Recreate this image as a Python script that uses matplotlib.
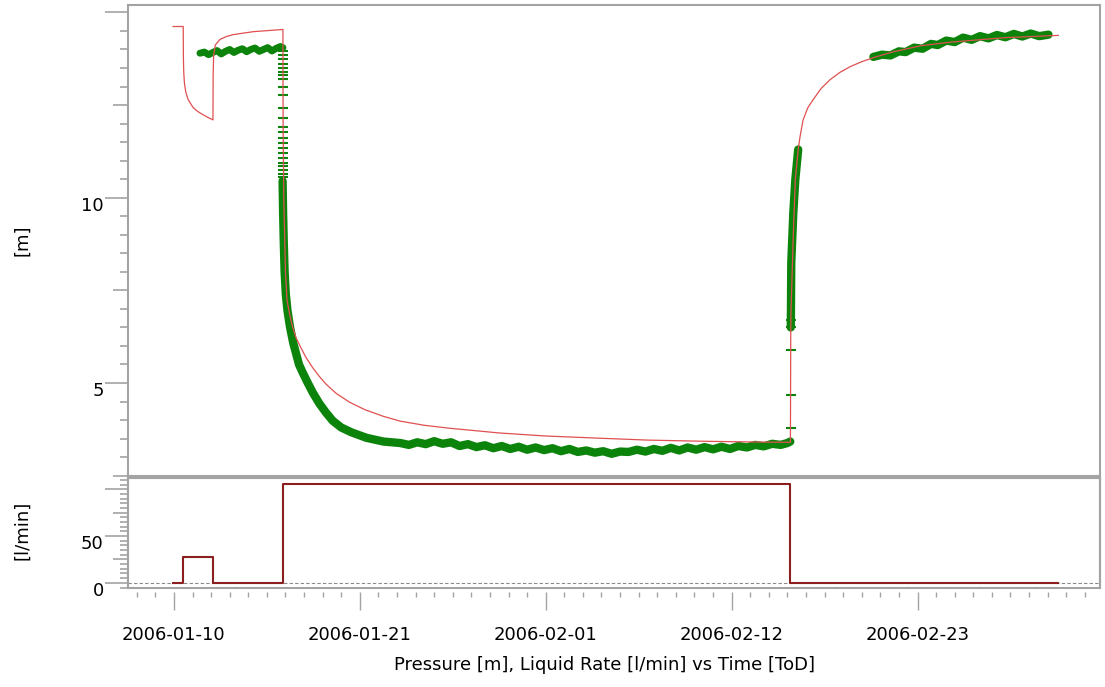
import datetime as dt
import numpy as np
import matplotlib
matplotlib.use('Agg')
import matplotlib.pyplot as plt
import matplotlib.dates as mdates
from matplotlib.ticker import FixedLocator, FixedFormatter, MultipleLocator
from matplotlib.patches import Rectangle
from matplotlib.transforms import ScaledTranslation

# time is in days after 2006-01-10
start = dt.datetime(2006, 1, 10)

# simulated pressure (model)
model_t = [-0.05, 0.55, 0.56, 0.58, 0.62, 0.7, 0.85, 1.14, 1.4, 1.72, 2.0, 2.31,
           2.32, 2.35, 2.45, 2.72, 3.1, 3.49, 4.68, 6.45,
           6.46, 6.5, 6.6, 6.69, 6.85, 7.0, 7.2, 7.46, 7.8, 8.2, 8.6, 9.0, 9.6, 10.4, 11.3, 12.4,
           13.4, 14.8, 16.3, 19.3, 22.0, 25.2, 28.0, 31.1, 34.0, 36.47,
           36.48, 36.5, 36.51, 36.6, 36.65, 36.77, 36.94, 37.05, 37.23, 37.5, 37.83, 38.3, 38.84,
           39.4, 40.03, 40.7, 41.39, 42.5, 44.17, 46.0, 49.2, 52.33]
model_p = [14.62, 14.62, 13.8, 13.4, 13.1, 12.85, 12.64, 12.43, 12.33, 12.24, 12.17, 12.1,
           13.3, 13.85, 14.12, 14.27, 14.35, 14.4, 14.48, 14.54,
           12.0, 10.0, 8.0, 7.24, 6.85, 6.55, 6.25, 6.0, 5.7, 5.42, 5.18, 4.97, 4.72, 4.48, 4.28, 4.1,
           3.97, 3.86, 3.78, 3.65, 3.57, 3.51, 3.46, 3.43, 3.41, 3.40,
           3.40, 6.5, 6.9, 8.24, 9.0, 10.49, 11.3, 11.65, 12.1, 12.42, 12.65, 12.95, 13.19,
           13.38, 13.54, 13.67, 13.78, 13.93, 14.1, 14.2, 14.32, 14.38]

# measured pressure
obs_a_t = [1.54, 1.8, 2.05, 2.3, 2.55, 2.8, 3.05, 3.3, 3.55, 3.8, 4.05, 4.3, 4.55, 4.8, 5.05,
           5.3, 5.55, 5.8, 6.05, 6.3, 6.45]
obs_a_p = [13.90, 13.93, 13.86, 13.92, 13.97, 13.88, 13.95, 14.00, 13.92, 13.98, 14.02, 13.94,
           14.00, 14.04, 13.95, 14.00, 14.05, 13.96, 14.03, 14.08, 14.05]

drop_p = [13.95, 13.85, 13.75, 13.6, 13.5, 13.4, 13.3, 13.2, 13.0, 12.78, 12.43, 12.16, 11.92,
          11.76, 11.62, 11.49, 11.35, 11.22, 11.08, 10.95, 10.85, 10.75, 10.65, 10.55]

obs_b_t = [6.43, 6.46, 6.5, 6.55, 6.62, 6.72, 6.87, 7.05, 7.4, 7.6, 7.9, 8.23, 8.6, 9.0, 9.4,
           9.9, 10.5, 11.4, 12.4, 13.4, 13.9, 14.4, 14.9, 15.4, 15.9, 16.4, 16.9, 17.4, 17.9,
           18.4, 18.9, 19.4, 19.9, 20.4, 20.9, 21.4, 21.9, 22.4, 22.9, 23.4, 23.9, 24.4, 24.9,
           25.4, 25.9, 26.4, 26.9, 27.4, 27.9, 28.4, 28.9, 29.4, 29.9, 30.4, 30.9, 31.4, 31.9,
           32.4, 32.9, 33.4, 33.9, 34.4, 34.9, 35.4, 35.9, 36.3, 36.47]
obs_b_p = [10.45, 9.6, 8.8, 8.0, 7.4, 6.95, 6.51, 6.1, 5.5, 5.3, 5.02, 4.73, 4.45, 4.2, 3.98,
           3.8, 3.67, 3.52, 3.42, 3.38, 3.33, 3.40, 3.35, 3.43, 3.36, 3.40, 3.30, 3.35, 3.27,
           3.32, 3.24, 3.30, 3.22, 3.28, 3.20, 3.26, 3.19, 3.24, 3.16, 3.22, 3.14, 3.18, 3.12,
           3.16, 3.09, 3.15, 3.14, 3.20, 3.15, 3.22, 3.17, 3.25, 3.18, 3.26, 3.20, 3.27, 3.21,
           3.28, 3.22, 3.30, 3.26, 3.33, 3.29, 3.36, 3.33, 3.38, 3.42]

rise_p = [3.78, 4.68, 5.9, 6.5, 6.7]

obs_c_t = [36.5, 36.51, 36.53, 36.65, 36.77, 36.94]
obs_c_p = [6.5, 6.89, 8.24, 9.59, 10.49, 11.3]

obs_d_t = [41.39, 41.9, 42.4, 42.9, 43.3, 43.8, 44.3, 44.8, 45.2, 45.7, 46.2, 46.7, 47.2, 47.7,
           48.2, 48.7, 49.2, 49.7, 50.2, 50.7, 51.2, 51.75]
obs_d_p = [13.80, 13.86, 13.84, 13.95, 13.93, 14.05, 14.02, 14.15, 14.12, 14.24, 14.20, 14.32,
           14.26, 14.36, 14.30, 14.39, 14.33, 14.42, 14.35, 14.43, 14.36, 14.40]

# liquid rate history
rate_t = [-0.05, 0.55, 2.31, 6.45, 36.48, 52.33]
rate_q = [0, 28, 0, 106, 0, 0]

t0 = mdates.date2num(start)
def T(d):
    return t0 + np.asarray(d, dtype=float)

GRAY = '#a3a3a3'
GREEN = '#0c840c'
RED = '#e05050'
plt.rcParams['font.family'] = 'DejaVu Sans'
plt.rcParams['font.size'] = 13

fig = plt.figure(figsize=(11.05, 6.87), dpi=100)
ax1 = fig.add_axes([0.1158, 0.3071, 0.8797, 0.6856])
ax2 = fig.add_axes([0.1158, 0.1441, 0.8797, 0.1601], sharex=ax1)

# pressure
ax1.plot(T(obs_a_t), obs_a_p, color=GREEN, lw=5, solid_capstyle='round', zorder=2)
ax1.plot(T([6.45] * len(drop_p)), drop_p, ls='none', marker='_', ms=7, mew=1.5, color=GREEN, zorder=2)
ax1.plot(T(obs_b_t), obs_b_p, color=GREEN, lw=6, solid_capstyle='round',
         solid_joinstyle='round', zorder=2)
ax1.plot(T([36.5] * len(rise_p)), rise_p, ls='none', marker='_', ms=7, mew=1.5, color=GREEN, zorder=2)
ax1.plot(T(obs_c_t), obs_c_p, color=GREEN, lw=6, solid_capstyle='round', zorder=2)
ax1.plot(T(obs_d_t), obs_d_p, color=GREEN, lw=6, solid_capstyle='round', zorder=2)
ax1.plot(T(model_t), model_p, color=RED, lw=0.9, zorder=3)

# rate
ax2.axhline(0, color='#888888', ls='--', lw=0.8, dashes=(3, 2), zorder=1)
ax2.plot(T(rate_t), rate_q, drawstyle='steps-post', color='#8b1e1e', lw=1.5, zorder=2)

ax1.set_xlim(t0 - 2.72, t0 + 54.8)
ax1.set_ylim(2.49, 15.2)
ax2.set_ylim(-5.5, 112)

# x axis
ax2.xaxis.set_major_locator(FixedLocator(T(11 * np.arange(5))))
ax2.xaxis.set_minor_locator(FixedLocator(T(1.1 * np.arange(-2, 50))))
ax2.xaxis.set_major_formatter(mdates.DateFormatter('%Y-%m-%d'))
ax1.tick_params(axis='x', which='both', bottom=False, labelbottom=False)
ax2.tick_params(axis='x', which='major', length=13, width=1, color=GRAY, pad=11)
ax2.tick_params(axis='x', which='minor', length=3.6, width=1, color=GRAY)
ax2.spines['bottom'].set_position(('outward', 3))
ax2.spines['bottom'].set_visible(False)

# y axes
ax1.yaxis.set_major_locator(FixedLocator([2.5, 5, 7.5, 10, 12.5, 15]))
ax1.yaxis.set_major_formatter(FixedFormatter(['', '5', '', '10', '', '']))
ax1.yaxis.set_minor_locator(MultipleLocator(0.5))
ax2.yaxis.set_major_locator(FixedLocator([0, 25, 50, 75, 100]))
ax2.yaxis.set_major_formatter(FixedFormatter(['0', '', '50', '', '']))
ax2.yaxis.set_minor_locator(MultipleLocator(5))
for ax in (ax1, ax2):
    ax.tick_params(axis='y', which='major', length=16.5, width=1.2, color=GRAY, pad=1)
    ax.tick_params(axis='y', which='minor', length=5.8, width=1.2, color=GRAY)
    for s in ['left', 'right', 'top', 'bottom']:
        ax.spines[s].set_color(GRAY)
        ax.spines[s].set_linewidth(1.5)
ax2.add_patch(Rectangle((0, 0), 1, 1, transform=ax2.transAxes, fill=False,
                        ec=GRAY, lw=1.5, clip_on=False, zorder=5))

fig.canvas.draw()
for ax, locs in ((ax1, [2.5, 5, 7.5, 10, 12.5, 15]), (ax2, [0, 25, 50, 75, 100])):
    for tick, v in zip(ax.yaxis.get_major_ticks(), locs):
        if v not in (5, 10, 15, 0, 50, 100):
            tick.tick1line.set_markersize(10.8)
        tick.label1.set_transform(tick.label1.get_transform()
                                  + ScaledTranslation(0, -6 / 100, fig.dpi_scale_trans))

fig.text(0.02, 0.6507, '[m]', rotation=90, ha='center', va='center', fontsize=13)
fig.text(0.02, 0.2285, '[l/min]', rotation=90, ha='center', va='center', fontsize=13)
fig.text(0.5475, 0.032, 'Pressure [m], Liquid Rate [l/min] vs Time [ToD]',
         ha='center', va='center', fontsize=13)

fig.savefig('out.png', dpi=100)
